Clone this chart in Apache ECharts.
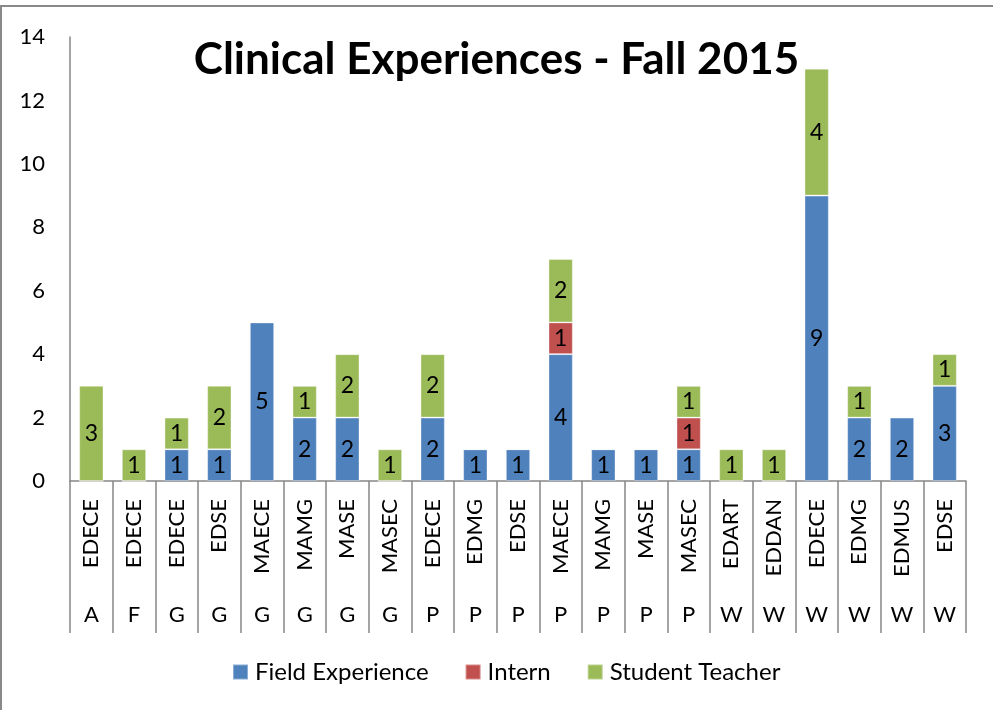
<!DOCTYPE html>
<html>
<head>
<meta charset="utf-8">
<script src="https://cdn.jsdelivr.net/npm/echarts@6/dist/echarts.min.js"></script>
<style>
  html, body { margin: 0; padding: 0; background: #fff; }
  #chart { width: 993px; height: 710px; }
</style>
</head>
<body>
<div id="chart"></div>
<script>
// program codes (first level) and campus (second level)
var programs = ['EDECE','EDECE','EDECE','EDSE','MAECE','MAMG','MASE','MASEC','EDECE','EDMG','EDSE','MAECE','MAMG','MASE','MASEC','EDART','EDDAN','EDECE','EDMG','EDMUS','EDSE'];
var campuses = ['A','F','G','G','G','G','G','G','P','P','P','P','P','P','P','W','W','W','W','W','W'];

var fieldExperience = [0,0,1,1,5,2,2,0,2,1,1,4,1,1,1,0,0,9,2,2,3];
var intern          = [0,0,0,0,0,0,0,0,0,0,0,1,0,0,1,0,0,0,0,0,0];
var studentTeacher  = [3,1,1,2,0,1,2,1,2,0,0,2,0,0,1,1,1,4,1,0,1];

var yTicks = [0, 2, 4, 6, 8, 10, 12, 14];

var font = 'Lato';
var axisGray = '#868686';

function barSeries(name, data, color) {
  return {
    name: name,
    type: 'bar',
    stack: 'total',
    barWidth: '57%',
    data: data,
    itemStyle: { color: color, borderColor: 'rgba(255,255,255,0.35)', borderWidth: 1 },
    label: {
      show: true,
      position: 'inside',
      color: '#000',
      fontFamily: font,
      fontSize: 23,
      formatter: function (p) { return p.value ? String(p.value) : ''; }
    }
  };
}

var chart = echarts.init(document.getElementById('chart'));
chart.setOption({
  animation: false,
  backgroundColor: '#fff',
  graphic: [{
    type: 'rect',
    shape: { x: 1, y: 6, width: 1100, height: 800 },
    style: { fill: 'none', stroke: '#898989', lineWidth: 2 }
  }],
  title: {
    text: 'Clinical Experiences - Fall 2015',
    left: 'center',
    top: 33,
    textStyle: { fontFamily: font, fontWeight: 'bold', fontSize: 44, color: '#000' }
  },
  legend: {
    left: 227,
    top: 655,
    itemWidth: 15,
    itemHeight: 15,
    itemGap: 36,
    icon: 'rect',
    textStyle: { fontFamily: font, fontSize: 24, color: '#000', padding: [0, 0, 0, 2] },
    data: ['Field Experience', 'Intern', 'Student Teacher']
  },
  grid: { left: 70, right: 27, top: 37, bottom: 229 },
  xAxis: [{
    type: 'category',
    data: programs,
    position: 'bottom',
    axisLine: { lineStyle: { color: axisGray, width: 1.5 } },
    axisTick: { show: true, interval: 0, length: 152, lineStyle: { color: axisGray, width: 1.5 } },
    axisLabel: {
      interval: 0,
      rotate: 90,
      margin: 18,
      color: '#000',
      fontFamily: font,
      fontSize: 22
    }
  }, {
    type: 'category',
    data: campuses,
    position: 'bottom',
    axisLine: { show: false },
    axisTick: { show: false },
    axisLabel: {
      interval: 0,
      margin: 123,
      color: '#000',
      fontFamily: font,
      fontSize: 22
    }
  }],
  yAxis: {
    type: 'value',
    min: yTicks[0],
    max: yTicks[yTicks.length - 1],
    interval: 2,
    splitLine: { show: false },
    axisLine: { show: true, lineStyle: { color: axisGray, width: 1.5 } },
    axisTick: { show: false },
    axisLabel: { margin: 25, color: '#000', fontFamily: font, fontSize: 22 }
  },
  series: [
    barSeries('Field Experience', fieldExperience, '#4F81BD'),
    barSeries('Intern', intern, '#C0504D'),
    barSeries('Student Teacher', studentTeacher, '#9BBB59')
  ]
});
</script>
</body>
</html>
